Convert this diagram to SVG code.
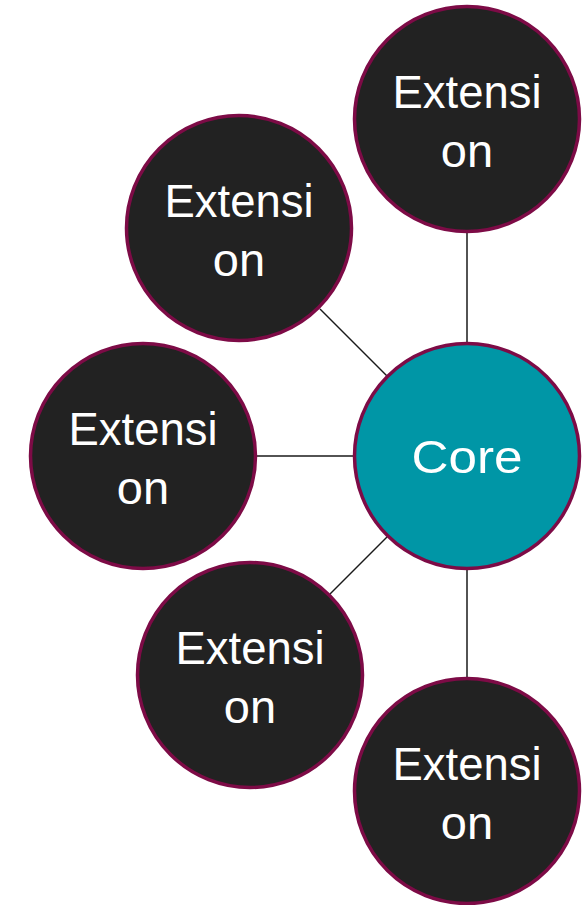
<svg xmlns="http://www.w3.org/2000/svg" width="584" height="905" viewBox="0 0 584 905">
<style>
.node{stroke:#7D0B46;stroke-width:3.5}
.ext{fill:#222222}
.core{fill:#0096A6}
.lbl{font-family:"Liberation Sans",Arial,sans-serif;font-size:47px;fill:#ffffff;text-anchor:middle}
.con{stroke:#1a1a1a;stroke-width:1.5;fill:none}
</style>
<rect width="584" height="905" fill="#ffffff"/>
<g id="connectors">
<line class="con" x1="467" y1="232" x2="467" y2="342"/>
<line class="con" x1="320" y1="309" x2="387" y2="376"/>
<line class="con" x1="256" y1="456" x2="353" y2="456"/>
<line class="con" x1="330" y1="594" x2="387" y2="537"/>
<line class="con" x1="467" y1="570" x2="467" y2="678"/>
</g>
<g id="ext-top-right">
<circle class="node ext" cx="467" cy="119" r="112.5"/>
<text class="lbl" x="467" y="108" textLength="149" lengthAdjust="spacingAndGlyphs">Extensi</text>
<text class="lbl" x="467" y="167">on</text>
</g>
<g id="ext-upper-left">
<circle class="node ext" cx="239" cy="228" r="112.5"/>
<text class="lbl" x="239" y="217" textLength="149" lengthAdjust="spacingAndGlyphs">Extensi</text>
<text class="lbl" x="239" y="276">on</text>
</g>
<g id="ext-left">
<circle class="node ext" cx="143" cy="456" r="112.5"/>
<text class="lbl" x="143" y="445" textLength="149" lengthAdjust="spacingAndGlyphs">Extensi</text>
<text class="lbl" x="143" y="504">on</text>
</g>
<g id="ext-lower-left">
<circle class="node ext" cx="250" cy="675" r="112.5"/>
<text class="lbl" x="250" y="664" textLength="149" lengthAdjust="spacingAndGlyphs">Extensi</text>
<text class="lbl" x="250" y="723">on</text>
</g>
<g id="ext-bottom-right">
<circle class="node ext" cx="467" cy="791" r="112.5"/>
<text class="lbl" x="467" y="780" textLength="149" lengthAdjust="spacingAndGlyphs">Extensi</text>
<text class="lbl" x="467" y="839">on</text>
</g>
<g id="core">
<circle class="node core" cx="467" cy="456" r="112.5"/>
<text class="lbl" x="467" y="473" textLength="111" lengthAdjust="spacingAndGlyphs">Core</text>
</g>
</svg>
